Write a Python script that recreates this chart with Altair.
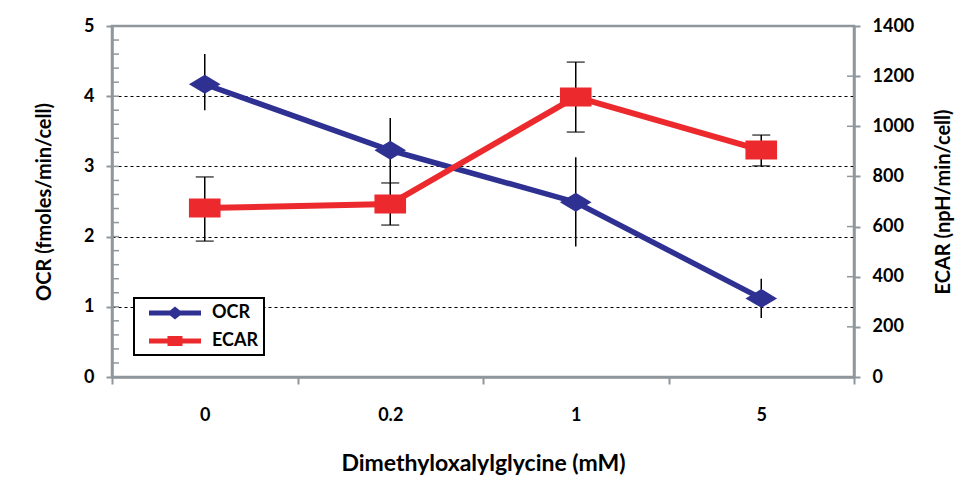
import altair as alt
import pandas as pd

DOSES = ["0", "0.2", "1", "5"]
OCR = [4.17, 3.23, 2.49, 1.12]
OCR_LO = [3.80, 2.76, 1.86, 0.84]
OCR_HI = [4.60, 3.69, 3.13, 1.40]
ECAR = [674, 690, 1117, 905]
ECAR_LO = [542, 606, 977, 842]
ECAR_HI = [798, 774, 1256, 965]
SERIES = ["OCR", "ECAR"]
OCR_TICKS = [0, 1, 2, 3, 4, 5]
OCR_MINOR = [0.2, 0.4, 0.6, 0.8, 1.2, 1.4, 1.6, 1.8, 2.2, 2.4, 2.6, 2.8,
             3.2, 3.4, 3.6, 3.8, 4.2, 4.4, 4.6, 4.8]
ECAR_TICKS = [0, 200, 400, 600, 800, 1000, 1200, 1400]

BLUE = "#2E3192"
RED = "#EC2A2E"
GRAY = "#8F979C"
FONT = "Lato"

DIAMOND = "M-1,0L0,-0.6L1,0L0,0.6Z"
SQUARE = "M-1,-0.6H1V0.6H-1Z"
LEG_OCR = "M0,-0.25H5.2V0.25H0Z M1.8,0L2.6,-0.65L3.4,0L2.6,0.65Z"
LEG_ECAR = "M0,-0.25H5.2V0.25H0Z M1.85,-0.5H3.35V0.5H1.85Z"

ocr_df = pd.DataFrame({"dose": DOSES, "v": OCR, "lo": OCR_LO, "hi": OCR_HI})
ecar_df = pd.DataFrame({"dose": DOSES, "v": ECAR, "lo": ECAR_LO, "hi": ECAR_HI})
minor_df = pd.DataFrame({"v": OCR_MINOR})
major_r_df = pd.DataFrame({"v": ECAR_TICKS})
series_df = pd.DataFrame({"series": SERIES})

x_enc = alt.X(
    "dose:N", sort=DOSES,
    scale=alt.Scale(paddingInner=0, paddingOuter=0),
    axis=alt.Axis(
        title="Dimethyloxalylglycine (mM)", labelAngle=0, tickBand="extent",
        tickSize=7, labelPadding=22, titlePadding=28, titleFontSize=23,
    ),
)


def ly(field):
    return alt.Y(
        field, scale=alt.Scale(domain=[0, 5], nice=False, zero=True),
        axis=alt.Axis(
            orient="left", values=OCR_TICKS, title="OCR (fmoles/min/cell)",
            grid=True, gridColor="black", gridDash=[3, 3], gridWidth=1,
            gridOpacity={"condition": {"test": "datum.value == 0 || datum.value == 5", "value": 0}, "value": 1},
            tickSize=6, labelPadding=12, titlePadding=29,
        ),
    )


def ry(field):
    return alt.Y(
        field, scale=alt.Scale(domain=[0, 1400], nice=False, zero=True),
        axis=alt.Axis(
            orient="right", values=ECAR_TICKS, title="ECAR (npH/min/cell)",
            grid=False, tickSize=6, labelPadding=12, titlePadding=40,
            titleAngle=270, labelAlign="left", format="d",
        ),
    )


ocr_err = alt.Chart(ocr_df).mark_rule(color="black", strokeWidth=1.5).encode(
    x=x_enc, y=ly("lo:Q"), y2="hi:Q")
ocr_line = alt.Chart(ocr_df).mark_line(color=BLUE, strokeWidth=5.5).encode(
    x=x_enc, y=ly("v:Q"))
ocr_pts = alt.Chart(ocr_df).mark_point(
    shape=DIAMOND, size=1000, filled=True, opacity=1, color=BLUE, strokeWidth=0
).encode(x=x_enc, y=ly("v:Q"))
minor = alt.Chart(minor_df).mark_rule(color=GRAY, strokeWidth=1.5).encode(
    y=ly("v:Q"), x=alt.value(0), x2=alt.value(7))
major_in = alt.Chart(pd.DataFrame({"v": OCR_TICKS})).mark_rule(color=GRAY, strokeWidth=1.5).encode(
    y=ly("v:Q"), x=alt.value(0), x2=alt.value(7))

legend = alt.Legend(
    orient="none", legendX=22, legendY=272, title=None,
    strokeColor="black", padding=5, rowPadding=9,
    symbolSize=400, symbolOpacity=1, symbolStrokeWidth=0,
    labelFont=FONT, labelFontWeight="bold", labelFontSize=18, labelColor="black",
    labelOffset=53, fillColor="white",
)
leg_layer = alt.Chart(series_df).mark_point(filled=True, opacity=0).encode(
    x=alt.value(0), y=alt.value(0),
    color=alt.Color("series:N", scale=alt.Scale(domain=SERIES, range=[BLUE, RED]), legend=legend),
    shape=alt.Shape("series:N", scale=alt.Scale(domain=SERIES, range=[LEG_OCR, LEG_ECAR]), legend=legend),
)

left = alt.layer(minor, major_in, ocr_err, ocr_line, ocr_pts, leg_layer)

ecar_err = alt.Chart(ecar_df).mark_rule(color="black", strokeWidth=1.5).encode(
    x=x_enc, y=ry("lo:Q"), y2="hi:Q")
ecar_cap_hi = alt.Chart(ecar_df).mark_tick(color="black", size=18, thickness=1.5, orient="horizontal").encode(
    x=x_enc, y=ry("hi:Q"))
ecar_cap_lo = alt.Chart(ecar_df).mark_tick(color="black", size=18, thickness=1.5, orient="horizontal").encode(
    x=x_enc, y=ry("lo:Q"))
ecar_line = alt.Chart(ecar_df).mark_line(color=RED, strokeWidth=6).encode(
    x=x_enc, y=ry("v:Q"))
ecar_pts = alt.Chart(ecar_df).mark_point(
    shape=SQUARE, size=1000, filled=True, opacity=1, color=RED, strokeWidth=0
).encode(x=x_enc, y=ry("v:Q"))
right_in = alt.Chart(major_r_df).mark_rule(color=GRAY, strokeWidth=1.5).encode(
    y=ry("v:Q"), x=alt.value(735), x2=alt.value(742))

right = alt.layer(right_in, ecar_err, ecar_cap_hi, ecar_cap_lo, ecar_line, ecar_pts)

chart = alt.layer(left, right).resolve_scale(y="independent").properties(
    width=742, height=351,
    autosize=alt.AutoSizeParams(type="none"),
    padding={"left": 112, "top": 26, "right": 102, "bottom": 104},
).configure_view(
    stroke=GRAY, strokeWidth=2.5,
).configure_axis(
    domainColor=GRAY, domainWidth=2.5, tickColor=GRAY, tickWidth=2,
    labelFont=FONT, labelFontWeight="bold", labelFontSize=18, labelColor="black",
    titleFont=FONT, titleFontWeight="bold", titleFontSize=20, titleColor="black",
).configure_legend(
    strokeWidth=2,
)

chart.save("out.html", embed_options={"renderer": "svg", "actions": False})
